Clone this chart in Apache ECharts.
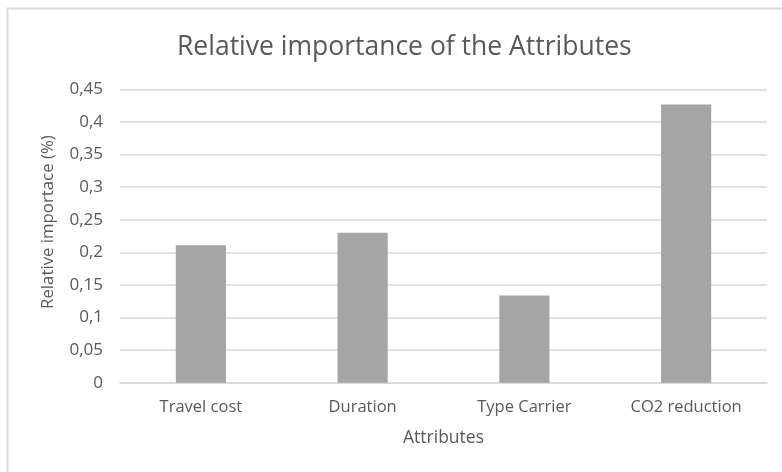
<!DOCTYPE html>
<html>
<head>
<meta charset="utf-8">
<title>Relative importance of the Attributes</title>
<script src="https://cdn.jsdelivr.net/npm/echarts@6/dist/echarts.min.js"></script>
<style>
  html, body { margin: 0; padding: 0; background: #fff; }
  #main { width: 782px; height: 472px; }
</style>
</head>
<body>
<div id="main"></div>
<script>
const attributes = ['Travel cost', 'Duration', 'Type Carrier', 'CO2 reduction'];
const importance = [0.211, 0.23, 0.134, 0.427];
const yTicks = [0, 0.05, 0.1, 0.15, 0.2, 0.25, 0.3, 0.35, 0.4, 0.45];

const font = 'Open Sans';
const chart = echarts.init(document.getElementById('main'));
chart.setOption({
  animation: false,
  graphic: [{
    type: 'rect',
    shape: { x: 7.5, y: 8.5, width: 800, height: 500 },
    style: { fill: 'none', stroke: '#d9d9d9', lineWidth: 2 }
  }],
  title: {
    text: 'Relative importance of the Attributes',
    left: 172,
    top: 29,
    textStyle: { fontFamily: font, fontSize: 26.5, fontWeight: 'normal', color: '#595959' }
  },
  grid: { left: 120, right: 15, top: 89.5, bottom: 89.3 },
  xAxis: {
    type: 'category',
    data: attributes,
    name: 'Attributes',
    nameLocation: 'middle',
    nameGap: 46,
    nameTextStyle: { fontFamily: font, fontSize: 17.5, color: '#595959' },
    axisLine: { lineStyle: { color: '#d9d9d9', width: 1.5 } },
    axisTick: { show: false },
    axisLabel: { fontFamily: font, fontSize: 16.5, color: '#595959', margin: 16 }
  },
  yAxis: {
    type: 'value',
    min: 0,
    max: yTicks[yTicks.length - 1],
    interval: 0.05,
    name: 'Relative importace (%)',
    nameLocation: 'middle',
    nameGap: 63,
    nameTextStyle: { fontFamily: font, fontSize: 16.8, color: '#595959', padding: [0, 0, 0, 28] },
    axisLine: { show: false },
    axisTick: { show: false },
    splitLine: { lineStyle: { color: '#d9d9d9', width: 1.5 } },
    axisLabel: {
      fontFamily: font, fontSize: 17, color: '#595959', margin: 17,
      formatter: v => String(Math.round(v * 100) / 100).replace('.', ',')
    }
  },
  series: [{
    type: 'bar',
    data: importance,
    barWidth: '31%',
    itemStyle: { color: '#a5a5a5' }
  }]
});
</script>
</body>
</html>
